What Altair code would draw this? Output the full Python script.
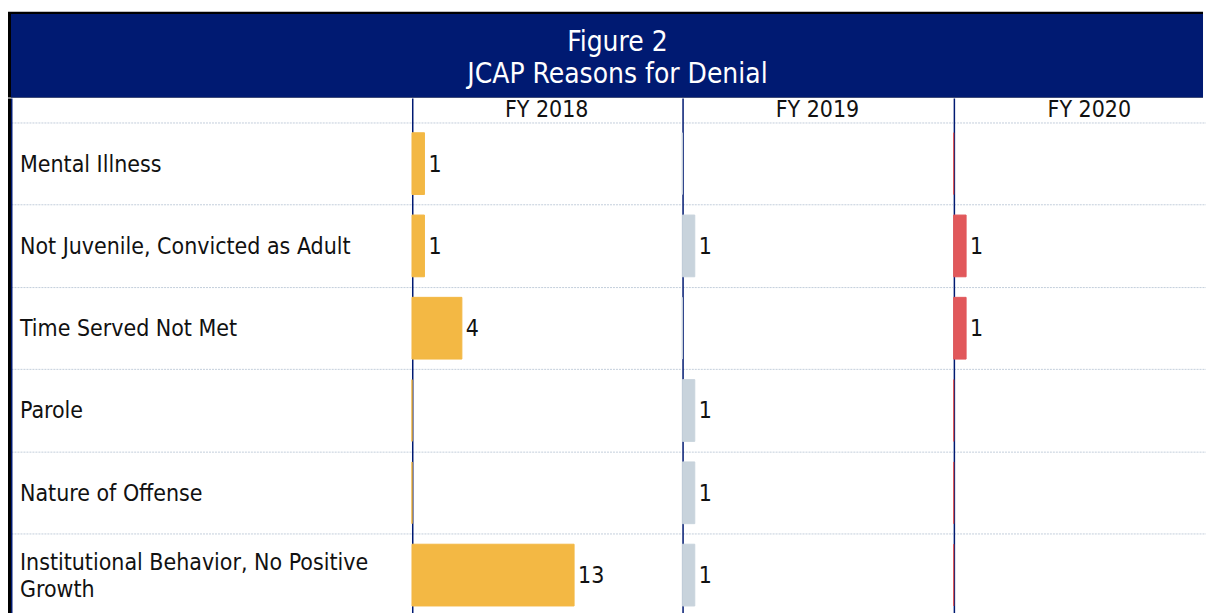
import altair as alt
import pandas as pd

# ---- data ----
categories = [
    "Mental Illness",
    "Not Juvenile, Convicted as Adult",
    "Time Served Not Met",
    "Parole",
    "Nature of Offense",
    "Institutional Behavior, No Positive\nGrowth",
]
years = ["FY 2018", "FY 2019", "FY 2020"]
fy2018 = [1, 1, 4, 0, 0, 13]
fy2019 = [0, 1, 0, 1, 1, 1]
fy2020 = [0, 1, 1, 0, 0, 0]
title_lines = ["Figure 2", "JCAP Reasons for Denial"]

# ---- style ----
FONT = "DejaVu Sans Condensed, Liberation Sans, sans-serif"
NAVY = "#001A72"
GRID = "#C3CEDB"
BAR_COLORS = ["#F3B844", "#C8D3DC", "#E1585B"]
LABEL_W = 404
PANEL_W = [270, 271, 253]      # last panel is cut by the page edge
PANEL_CENTER = [135, 135.5, 136]
H = 495          # six rows of ~82.5 px
HEADER = 24
BANNER_H = 86
TOTAL_W = LABEL_W + sum(PANEL_W)
XMAX = 21.6
LINE_H = 27

one = pd.DataFrame({"k": [0]})


def y_enc():
    return alt.Y(
        "category:N",
        sort=categories,
        scale=alt.Scale(type="band", paddingInner=0, paddingOuter=0),
        axis=alt.Axis(
            title=None, labels=False, ticks=False, domain=False,
            grid=True, bandPosition=0, gridDash=[2, 1],
            gridColor=GRID, gridWidth=1,
        ),
    )


def panel(i):
    width = PANEL_W[i]
    color = BAR_COLORS[i]
    df = pd.DataFrame({"category": categories, "value": [fy2018, fy2019, fy2020][i]})
    x = alt.X("value:Q", scale=alt.Scale(domain=[0, XMAX * width / 270]), axis=None)
    line = alt.Chart(one).mark_rule(color=NAVY, strokeWidth=1.5).encode(
        x=alt.value(0.75), y=alt.value(-HEADER), y2=alt.value(H)
    )
    bars = alt.Chart(df).mark_bar(
        height=alt.RelativeBandSize(band=0.75), color=color,
        stroke=color, strokeWidth=1,
    ).encode(x=x, y=y_enc())
    labels = alt.Chart(df).transform_filter("datum.value > 0").mark_text(
        align="left", baseline="middle", dx=4, dy=1, fontSize=23,
        font=FONT, color="#111111",
    ).encode(x=x, y=y_enc(), text="value:Q")
    header = alt.Chart(pd.DataFrame({"year": [years[i]]})).mark_text(
        align="center", baseline="middle", fontSize=23, font=FONT,
        color="#111111",
    ).encode(x=alt.value(PANEL_CENTER[i]), y=alt.value(-12), text="year:N")
    return alt.layer(line, bars, labels, header).properties(width=width, height=H)


# label column
lab_df = pd.DataFrame({"category": categories})
lab_single = alt.Chart(lab_df).transform_filter(
    "indexof(datum.category, '\\n') < 0"
).mark_text(
    align="left", baseline="middle", fontSize=23, font=FONT, dy=1,
    color="#111111",
).encode(x=alt.value(12), y=y_enc(), text="category:N")
lab_multi = alt.Chart(lab_df).transform_filter(
    "indexof(datum.category, '\\n') >= 0"
).mark_text(
    align="left", baseline="middle", fontSize=23, font=FONT, dy=1 - LINE_H / 2,
    lineBreak="\n", lineHeight=LINE_H, color="#111111",
).encode(x=alt.value(12), y=y_enc(), text="category:N")
black_edge = alt.Chart(one).mark_rect(color="black").encode(
    x=alt.value(0), x2=alt.value(3), y=alt.value(-HEADER), y2=alt.value(H)
)
navy_edge = alt.Chart(one).mark_rule(color=NAVY, strokeWidth=1.5).encode(
    x=alt.value(3.75), y=alt.value(-HEADER), y2=alt.value(H)
)
label_col = alt.layer(lab_single, lab_multi, black_edge, navy_edge).properties(
    width=LABEL_W, height=H
)

# banner
banner_bg = alt.Chart(one).mark_rect(color="black").encode(
    x=alt.value(0), x2=alt.value(TOTAL_W), y=alt.value(0), y2=alt.value(BANNER_H)
)
banner_fill = alt.Chart(one).mark_rect(color=NAVY).encode(
    x=alt.value(3), x2=alt.value(TOTAL_W), y=alt.value(2.3), y2=alt.value(BANNER_H)
)
title_pos = [31, 63]
title_layers = [
    alt.Chart(pd.DataFrame({"t": [title_lines[i]]})).mark_text(
        align="center", baseline="middle", fontSize=28, font=FONT, color="white"
    ).encode(x=alt.value(611), y=alt.value(title_pos[i]), text="t:N")
    for i in range(len(title_lines))
]
banner = alt.layer(banner_bg, banner_fill, *title_layers).properties(
    width=TOTAL_W, height=BANNER_H
)

panels = [panel(i) for i in range(3)]
body = alt.hconcat(label_col, *panels, spacing=0)

chart = alt.vconcat(banner, body, spacing=0).properties(
    padding={"left": 0, "top": 3, "right": 0, "bottom": 0},
    background="white",
).configure_view(stroke=None)

chart.save("out.html", embed_options={"renderer": "svg", "actions": False})
